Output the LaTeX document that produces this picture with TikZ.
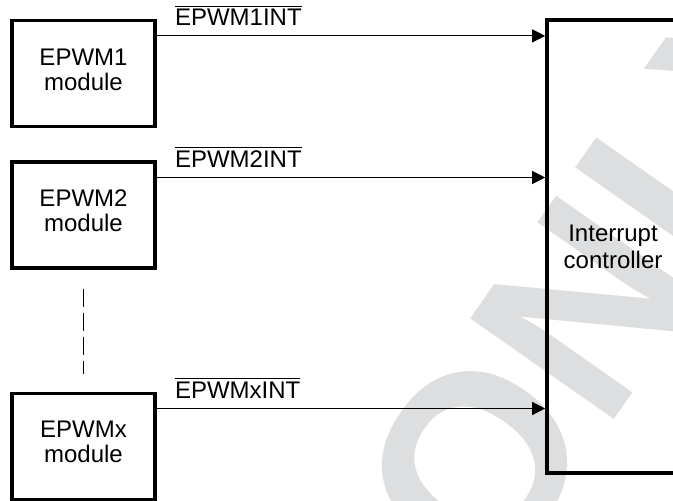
\documentclass[tikz,border=0pt]{standalone}
\usepackage{fontspec}
\setmainfont{Liberation Sans}
\usepackage{tikz}
\usetikzlibrary{arrows.meta,positioning,calc}
\definecolor{wmgray}{RGB}{221,222,223}
\tikzset{
  module/.style={draw, line width=1.6pt, align=center, inner sep=0pt,
    minimum width=71.5pt, minimum height=53pt, text depth=4pt,
    font=\fontsize{12}{12.5}\selectfont},
  ctrl/.style={draw, line width=1.8pt, align=center, inner sep=0pt,
    minimum width=66pt, minimum height=226.5pt,
    font=\fontsize{12}{13.5}\selectfont},
  sig/.style={-{Triangle[length=6.5pt,width=6.5pt]}, line width=0.6pt},
  siglabel/.style={inner sep=0pt, font=\fontsize{12}{12.5}\selectfont},
  gapline/.style={line width=0.6pt, dash pattern=on 9pt off 3pt},
  watermark/.style={text=wmgray, inner sep=0pt, anchor=base west,
    font=\fontsize{127.5}{127.5}\selectfont\bfseries},
}

\begin{document}
\begin{tikzpicture}[x=0.5pt, y=-0.5pt]
  \useasboundingbox (0,0) rectangle (673,501);
  \clip (0,0) rectangle (673,501);
  % watermark behind the figure
  \node[watermark, rotate=55] (wm) at (490,596) {ONLY};

  % modules
  \node[module] (m1) at (83.5,73.5) {EPWM1\\module};
  \node[module, below=16.2pt of m1] (m2) {EPWM2\\module};
  \node[module, below=60.9pt of m2] (mx) {EPWMx\\module};
  \draw[gapline, shorten <=9.5pt, shorten >=8.5pt] (m2) -- (mx);

  % interrupt controller
  \node[ctrl] (ic) at (613,246.5) {Interrupt\\controller};

  % interrupt lines
  \coordinate (s1) at ($(m1.north east)+(0,17)$);
  \coordinate (s2) at ($(m2.north east)+(0,17)$);
  \coordinate (sx) at ($(mx.north east)+(0,17)$);
  \draw[sig] (s1) -- (s1 -| ic.west);
  \draw[sig] (s2) -- (s2 -| ic.west);
  \draw[sig] (sx) -- (sx -| ic.west);
  \node[siglabel, above right=5pt and 9pt of s1] (l1) {$\overline{\hbox{EPWM1INT}}$};
  \node[siglabel, above right=5pt and 9pt of s2] (l2) {$\overline{\hbox{EPWM2INT}}$};
  \node[siglabel, above right=5pt and 9pt of sx] (lx) {$\overline{\hbox{EPWMxINT}}$};
\end{tikzpicture}
\end{document}
